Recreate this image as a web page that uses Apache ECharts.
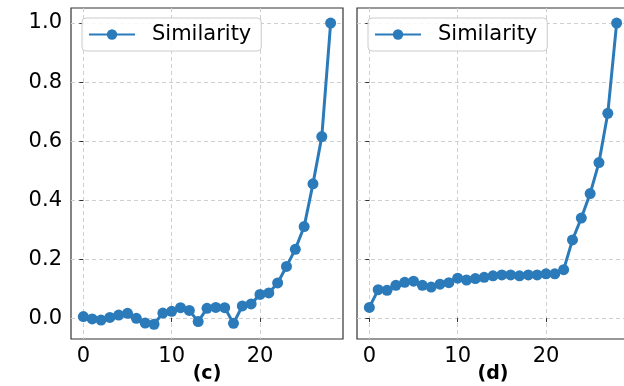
<!DOCTYPE html>
<html><head><meta charset="utf-8">
<script src="https://cdn.jsdelivr.net/npm/echarts@6/dist/echarts.min.js"></script>
<style>html,body{margin:0;padding:0;background:#fff}#c{width:624px;height:386px}</style>
</head><body><div id="c"></div>
<script>
const layers = [0,1,2,3,4,5,6,7,8,9,10,11,12,13,14,15,16,17,18,19,20,21,22,23,24,25,26,27,28];
const simC = [0.005,-0.003,-0.007,0.002,0.010,0.016,-0.001,-0.017,-0.021,0.017,0.023,0.035,0.026,-0.012,0.033,0.036,0.035,-0.018,0.041,0.048,0.080,0.085,0.119,0.175,0.233,0.310,0.455,0.615,1.0];
const simD = [0.036,0.096,0.094,0.111,0.121,0.125,0.111,0.105,0.115,0.120,0.135,0.129,0.134,0.138,0.143,0.146,0.146,0.143,0.146,0.146,0.150,0.150,0.164,0.265,0.339,0.422,0.527,0.694,1.0];
const xTicks = [0,10,20];
const yTicks = [0,0.2,0.4,0.6,0.8,1.0];
const panelNames = ['(c)','(d)'];
const seriesName = 'Similarity';

const FONT = 'DejaVu Sans';
const COLOR = '#2b7bba';
const chart = echarts.init(document.getElementById('c'), null, {renderer:'canvas'});
const grids = [
  {left:71, top:8, width:272, height:331, outerBoundsMode:'none', containLabel:false, show:true, borderColor:'#333', borderWidth:1.2, backgroundColor:'transparent'},
  {left:357, top:8, width:272, height:331, outerBoundsMode:'none', containLabel:false, show:true, borderColor:'#333', borderWidth:1.2, backgroundColor:'transparent'}
];
function xAx(i){
  return {type:'value', gridIndex:i, min:-1.4, max:29.4,
    name: panelNames[i], nameLocation:'middle', nameGap:26, nameMoveOverlap:false,
    nameTextStyle:{fontFamily:FONT, fontWeight:'bold', fontSize:19, color:'#000', verticalAlign:'top'},
    axisLine:{show:false},
    axisTick:{show:true, length:4, lineStyle:{color:'#333'}, customValues:xTicks},
    axisLabel:{fontFamily:FONT, fontSize:21, color:'#000', margin:7, customValues:xTicks},
    splitLine:{show:true, lineStyle:{color:'#d0d0d0', type:[4,3], width:1}}
  };
}
function yAx(i){
  return {type:'value', gridIndex:i, min:-0.071, max:1.051,
    axisLine:{show:false},
    axisTick:{show:true, length:4, lineStyle:{color:'#333'}, customValues:yTicks},
    axisLabel:{show:i===0, fontFamily:FONT, fontSize:21, color:'#000', margin:9, customValues:yTicks,
      formatter:v=>v.toFixed(1)},
    splitLine:{show:true, lineStyle:{color:'#d0d0d0', type:[4,3], width:1}}
  };
}
function ser(i, vals){
  return {name:seriesName, type:'line', xAxisIndex:i, yAxisIndex:i,
    data: layers.map((x,k)=>[x, vals[k]]),
    symbol:'circle', symbolSize:11, showSymbol:true,
    lineStyle:{color:COLOR, width:3}, itemStyle:{color:COLOR},
    emphasis:{disabled:true}, animation:false};
}
function leg(left){
  return {left:left, top:18, width:180, height:34, orient:'horizontal',
    data:[seriesName], backgroundColor:'rgba(255,255,255,0.85)', borderColor:'#cccccc', borderWidth:1, borderRadius:4,
    padding:[6,10,6,6], itemWidth:46, itemHeight:13, itemGap:10,
    textStyle:{fontFamily:FONT, fontSize:21, color:'#000', padding:[0,0,0,12]}, selectedMode:false};
}
chart.setOption({
  animation:false,
  grid:grids,
  xAxis:[xAx(0), xAx(1)],
  yAxis:[yAx(0), yAx(1)],
  legend:[leg(82), leg(368)],
  series:[ser(0, simC), ser(1, simD)]
});
</script></body></html>
